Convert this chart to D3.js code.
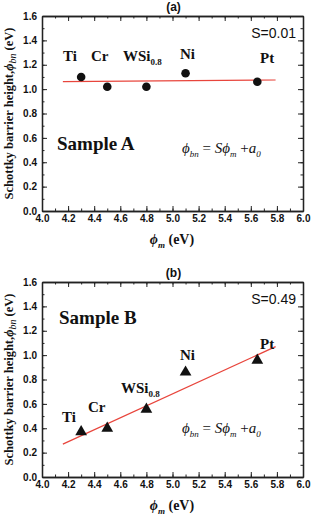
<!DOCTYPE html>
<html>
<head>
<meta charset="utf-8">
<script src="https://cdn.jsdelivr.net/npm/d3@7"></script>
<style>
  body { margin: 0; background: #fff; }
  text { fill: #111; }
</style>
</head>
<body>
<div id="chart"></div>
<script>
// work function of metals (eV)
var metals = ["Ti", "Cr", "WSi", "Ni", "Pt"];
var phiM = [4.3, 4.5, 4.8, 5.1, 5.65];
// barrier height, sample A and sample B
var phiBnA = [1.10, 1.02, 1.02, 1.13, 1.06];
var phiBnB = [0.37, 0.40, 0.555, 0.86, 0.957];
// linear fit end points
var fitX = [4.16, 5.79];
var fitA = [1.061, 1.075];
var fitB = [0.27, 1.07];
var xTicks = [4.0, 4.2, 4.4, 4.6, 4.8, 5.0, 5.2, 5.4, 5.6, 5.8, 6.0];
var yTicks = [0.0, 0.2, 0.4, 0.6, 0.8, 1.0, 1.2, 1.4, 1.6];

var SERIF = "'Liberation Serif', 'Times New Roman', 'DejaVu Serif', serif";
var SANS = "'Liberation Sans', Arial, sans-serif";

var W = 313, H = 518;
var svg = d3.select("#chart").append("svg")
  .attr("width", W).attr("height", H);

var left = 42, right = 303, ph = 195;

function panel(top, title, vals, fit, slope, sample, marker, labelPos, samplePos, formulaY) {
  var x = d3.scaleLinear().domain([4.0, 6.0]).range([left, right]);
  var y = d3.scaleLinear().domain([0, 1.6]).range([top + ph, top]);
  var g = svg.append("g");

  var minorX = d3.range(4.0, 6.001, 0.1);
  var minorY = d3.range(0, 1.601, 0.1);

  // axes with inward ticks on all sides
  g.append("g").attr("transform", "translate(0," + (top + ph) + ")")
    .call(d3.axisBottom(x).tickValues(xTicks).tickFormat(d3.format(".1f")).tickSizeInner(-5).tickSizeOuter(0).tickPadding(4));
  g.append("g").attr("transform", "translate(0," + top + ")")
    .call(d3.axisTop(x).tickValues(xTicks).tickFormat("").tickSizeInner(-5).tickSizeOuter(0));
  g.append("g").attr("transform", "translate(" + left + ",0)")
    .call(d3.axisLeft(y).tickValues(yTicks).tickFormat(d3.format(".1f")).tickSizeInner(-5).tickSizeOuter(0).tickPadding(5));
  g.append("g").attr("transform", "translate(" + right + ",0)")
    .call(d3.axisRight(y).tickValues(yTicks).tickFormat("").tickSizeInner(-5).tickSizeOuter(0));
  // minor ticks
  g.append("g").attr("transform", "translate(0," + (top + ph) + ")")
    .call(d3.axisBottom(x).tickValues(minorX).tickFormat("").tickSizeInner(-2.5).tickSizeOuter(0));
  g.append("g").attr("transform", "translate(0," + top + ")")
    .call(d3.axisTop(x).tickValues(minorX).tickFormat("").tickSizeInner(-2.5).tickSizeOuter(0));
  g.append("g").attr("transform", "translate(" + left + ",0)")
    .call(d3.axisLeft(y).tickValues(minorY).tickFormat("").tickSizeInner(-2.5).tickSizeOuter(0));
  g.append("g").attr("transform", "translate(" + right + ",0)")
    .call(d3.axisRight(y).tickValues(minorY).tickFormat("").tickSizeInner(-2.5).tickSizeOuter(0));

  g.selectAll(".domain").attr("stroke", "#222").attr("stroke-width", 1.3);
  g.selectAll(".tick line").attr("stroke", "#222").attr("stroke-width", 1);
  g.selectAll(".tick text")
    .style("font-family", SANS)
    .style("font-weight", "bold").style("font-size", "10px").attr("fill", "#222");

  // title
  g.append("text").attr("x", (left + right) / 2 + 1).attr("y", top - 5)
    .attr("text-anchor", "middle")
    .style("font-family", SANS)
    .style("font-weight", "bold").style("font-size", "12px").text(title);

  // fit line
  g.append("line")
    .attr("x1", x(fitX[0])).attr("y1", y(fit[0]))
    .attr("x2", x(fitX[1])).attr("y2", y(fit[1]))
    .attr("stroke", "#e8453c").attr("stroke-width", 1.2);

  // markers
  if (marker === "circle") {
    g.selectAll("circle.pt").data(vals).enter().append("circle")
      .attr("cx", function(d, i) { return x(phiM[i]); })
      .attr("cy", function(d) { return y(d); })
      .attr("r", 4.3).attr("fill", "#111");
  } else {
    g.selectAll("path.pt").data(vals).enter().append("path")
      .attr("transform", function(d, i) { return "translate(" + x(phiM[i]) + "," + y(d) + ")"; })
      .attr("d", d3.symbol().type(d3.symbolTriangle).size(60))
      .attr("fill", "#111");
  }

  // metal labels
  metals.forEach(function(m, i) {
    var t = g.append("text")
      .attr("x", labelPos[i][0]).attr("y", labelPos[i][1])
      .style("font-family", SERIF)
      .style("font-weight", "bold").style("font-size", "15px");
    if (m === "WSi") {
      t.append("tspan").text("WSi");
      t.append("tspan").attr("dy", 4).style("font-size", "9px").text("0.8");
    } else {
      t.text(m);
    }
  });

  // S value
  g.append("text").attr("x", 296).attr("y", top + 22)
    .attr("text-anchor", "end")
    .style("font-family", SANS)
    .style("font-size", "14px").text("S=" + slope);

  // sample name
  g.append("text").attr("x", samplePos[0]).attr("y", samplePos[1])
    .style("font-family", SERIF)
    .style("font-weight", "bold").style("font-size", "19px").text(sample);

  // formula
  var f = g.append("text").attr("x", 182).attr("y", formulaY)
    .style("font-family", SERIF)
    .style("font-style", "italic").style("font-size", "15px").attr("fill", "#444");
  f.append("tspan").text("\u03D5");
  f.append("tspan").attr("dy", 4).style("font-size", "9px").text("bn");
  f.append("tspan").attr("dy", -4).style("font-style", "normal").text(" = ");
  f.append("tspan").text("S\u03D5");
  f.append("tspan").attr("dy", 4).style("font-size", "9px").text("m");
  f.append("tspan").attr("dy", -4).style("font-style", "normal").text(" +");
  f.append("tspan").text("a");
  f.append("tspan").attr("dy", 4).style("font-size", "9px").text("0");

  // y axis label
  var yl = g.append("text")
    .attr("transform", "translate(13," + (top + ph / 2) + ") rotate(-90)")
    .attr("text-anchor", "middle")
    .style("font-family", SERIF)
    .style("font-weight", "bold").style("font-size", "12.5px");
  yl.append("tspan").text("Schottky barrier height,");
  yl.append("tspan").style("font-style", "italic").text("\u03D5");
  yl.append("tspan").attr("dy", 3).style("font-style", "italic").style("font-weight", "normal").style("font-size", "10px").text("bn");
  yl.append("tspan").attr("dy", -3).text(" (eV)");

  // x axis label
  var xl = g.append("text").attr("x", 172).attr("y", top + ph + 33)
    .attr("text-anchor", "middle")
    .style("font-family", SERIF)
    .style("font-weight", "bold").style("font-size", "14px");
  xl.append("tspan").style("font-style", "italic").text("\u03D5");
  xl.append("tspan").attr("dy", 4).style("font-style", "italic").style("font-size", "9px").text("m");
  xl.append("tspan").attr("dy", -4).text(" (eV)");
}

panel(16, "(a)", phiBnA, fitA, "0.01", "Sample A", "circle",
  [[63, 61], [91, 61], [123, 61], [180, 59], [260, 63]], [57, 150], 153);
panel(282, "(b)", phiBnB, fitB, "0.49", "Sample B", "triangle",
  [[62, 422], [88, 412], [121, 393], [180, 360], [260, 349]], [59, 324], 433);
</script>
</body>
</html>
